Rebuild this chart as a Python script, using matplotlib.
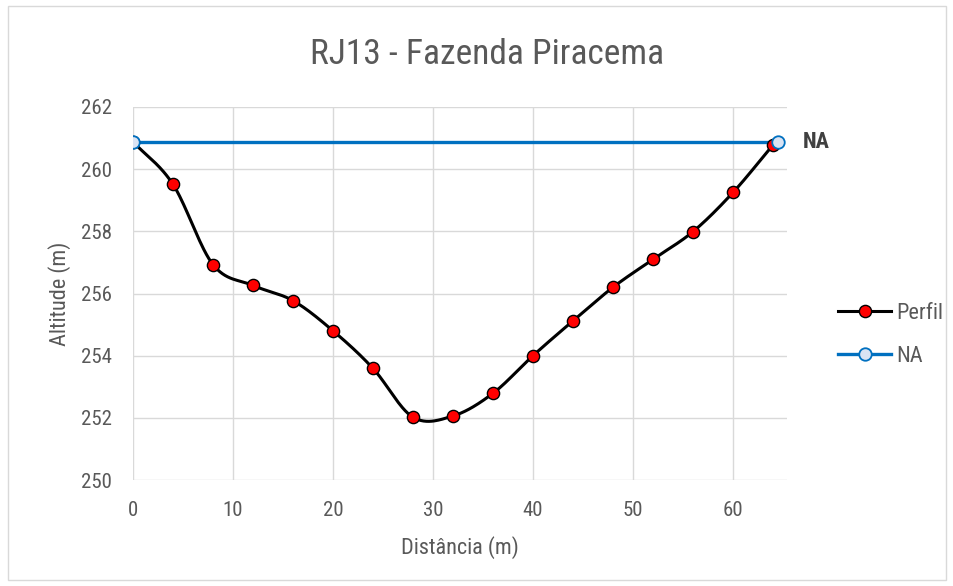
import matplotlib.pyplot as plt
from matplotlib.patches import Rectangle
import numpy as np

plt.rcParams['font.family'] = ['Roboto Condensed', 'Archivo Narrow', 'Liberation Sans', 'DejaVu Sans']

TITLE = "RJ13 - Fazenda Piracema"
X_LABEL = "Distância (m)"
Y_LABEL = "Altitude (m)"

# profile
distancia = [0, 4, 8, 12, 16, 20, 24, 28, 32, 36, 40, 44, 48, 52, 56, 60, 64]
altitude = [260.88, 259.51, 256.93, 256.26, 255.77, 254.80, 253.59, 252.02, 252.06,
            252.79, 254.00, 255.12, 256.20, 257.10, 257.99, 259.25, 260.78]

# water level
na_x = [0, 64.5]
na_y = [260.88, 260.88]

x_ticks = [0, 10, 20, 30, 40, 50, 60]
y_ticks = [250, 252, 254, 256, 258, 260, 262]

TEXT_GRAY = '#595959'
GRID_GRAY = '#d9d9d9'
NA_BLUE = '#0070c0'


def smooth(xs, ys, n=30):
    # catmull-rom through the points, close to excel's smoothed line
    p = np.column_stack((xs, ys)).astype(float)
    p = np.vstack([2 * p[0] - p[1], p, 2 * p[-1] - p[-2]])
    out = []
    t = np.linspace(0, 1, n, endpoint=False)[:, None]
    for i in range(1, len(p) - 2):
        p0, p1, p2, p3 = p[i - 1], p[i], p[i + 1], p[i + 2]
        seg = 0.5 * ((2 * p1) + (-p0 + p2) * t + (2 * p0 - 5 * p1 + 4 * p2 - p3) * t ** 2
                     + (-p0 + 3 * p1 - 3 * p2 + p3) * t ** 3)
        out.append(seg)
    out.append(p[-2][None, :])
    out = np.vstack(out)
    return out[:, 0], out[:, 1]


fig = plt.figure(figsize=(9.54, 5.86), dpi=100)
ax = fig.add_axes([133 / 954, 1 - 480 / 586, (787 - 133) / 954, (480 - 107) / 586])

fig.patches.append(Rectangle((8 / 954, 6 / 586), 938 / 954, 574 / 586, transform=fig.transFigure,
                             fill=False, edgecolor='#d9d9d9', linewidth=1))

sx, sy = smooth(distancia, altitude)
ax.plot(na_x, na_y, color=NA_BLUE, linewidth=2.4, zorder=3)
ax.plot(sx, sy, color='black', linewidth=2.2, zorder=4)
ax.plot(distancia, altitude, linestyle='none', marker='o', markersize=8.8,
        markerfacecolor='#ff0000', markeredgecolor='black', markeredgewidth=1, zorder=5)
ax.plot(na_x, na_y, linestyle='none', marker='o', markersize=9,
        markerfacecolor='#dae3f3', markeredgecolor=NA_BLUE, markeredgewidth=1.3, zorder=6)

# legend proxies
perfil_h, = ax.plot([], [], color='black', linewidth=2.2, marker='o', markersize=8.8,
                    markerfacecolor='#ff0000', markeredgecolor='black')
na_h, = ax.plot([], [], color=NA_BLUE, linewidth=2.4, marker='o', markersize=9,
                markerfacecolor='#dae3f3', markeredgecolor=NA_BLUE, markeredgewidth=1.3)
leg = fig.legend([perfil_h, na_h], ['Perfil', 'NA'], loc='center left',
                 bbox_to_anchor=(838 / 954, 1 - 335 / 586), frameon=False, fontsize=16,
                 handlelength=2.4, handletextpad=0.2, labelspacing=1.0, labelcolor=TEXT_GRAY,
                 borderpad=0, borderaxespad=0)

ax.text(67.0, na_y[-1], 'NA', fontsize=16, fontweight='bold', color='#404040',
        va='center', ha='left')

ax.set_xlim(0, 65.4)
ax.set_ylim(250, 262)
ax.set_xticks(x_ticks)
ax.set_yticks(y_ticks)
ax.grid(True, color=GRID_GRAY, linewidth=1)
ax.set_axisbelow(True)
for s in ax.spines.values():
    s.set_visible(False)
ax.tick_params(length=0, labelsize=15, labelcolor=TEXT_GRAY, pad=15)

ax.set_xlabel(X_LABEL, fontsize=16, color=TEXT_GRAY, labelpad=12)
ax.set_ylabel(Y_LABEL, fontsize=16, color=TEXT_GRAY, labelpad=7)
fig.text(487 / 954, 1 - 55 / 586, TITLE, fontsize=25.5, color=TEXT_GRAY, ha='center', va='center')

fig.savefig('out.png', dpi=100)
